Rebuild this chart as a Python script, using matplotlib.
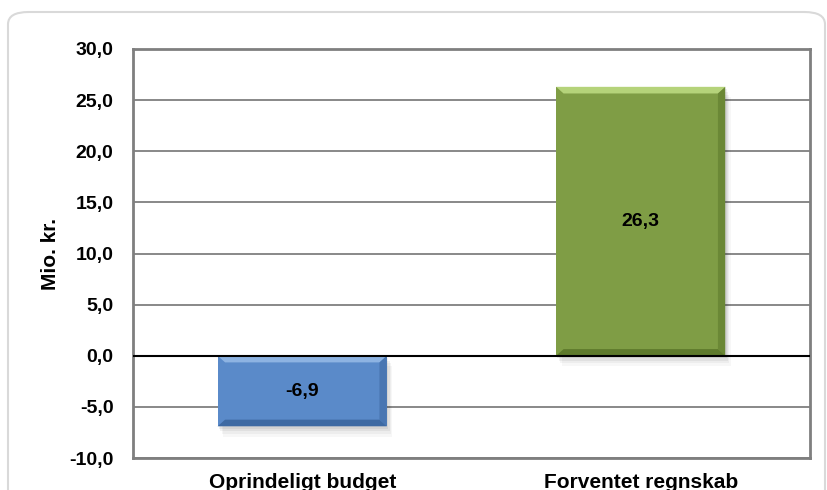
import matplotlib.pyplot as plt
from matplotlib.patches import FancyBboxPatch, Polygon, Rectangle
import numpy as np

categories = ['Oprindeligt budget', 'Forventet regnskab']
values = [-6.9, 26.3]
labels = ['-6,9', '26,3']
face_colors = ['#5A8AC9', '#7F9D45']
light_colors = ['#8DB3E2', '#B5D37A']
dark_colors = ['#3E6AA3', '#5E7A2C']
yticks = [-10, -5, 0, 5, 10, 15, 20, 25, 30]

plt.rcParams['font.family'] = ['Liberation Sans', 'DejaVu Sans']
plt.rcParams['font.weight'] = 'bold'

fig = plt.figure(figsize=(8.28, 4.9), dpi=100)
fig.patch.set_facecolor('white')

# rounded frame round the chart (runs past the bottom edge)
frame = FancyBboxPatch((8 / 828, -20 / 490), 817 / 828, 498 / 490,
                       boxstyle='round,pad=0,rounding_size=0.025',
                       transform=fig.transFigure, facecolor='none',
                       edgecolor='#D9D9D9', linewidth=1.5, zorder=-1)
fig.patches.append(frame)

ax = fig.add_axes([133 / 828, 32 / 490, 677 / 828, 409 / 490])
ax.set_facecolor('none')

x = np.arange(len(categories))
width = 0.5
bx = 0.022   # bevel in x (data units)
by = 0.65    # bevel in y (data units)

for i, v in enumerate(values):
    x0, x1 = x[i] - width / 2, x[i] + width / 2
    y0, y1 = min(0, v), max(0, v)
    # soft shadow
    for k, a in enumerate([0.06, 0.05, 0.04, 0.03]):
        ax.add_patch(Rectangle((x0 + 0.004 * (k + 1), y0 - 0.25 * (k + 1)),
                               width, y1 - y0, facecolor='black', alpha=a,
                               linewidth=0, zorder=2))
    ax.bar(x[i], v, width=width, color=face_colors[i], linewidth=0, zorder=3)
    # bevel edges
    ax.add_patch(Polygon([(x0, y1), (x1, y1), (x1 - bx, y1 - by), (x0 + bx, y1 - by)],
                         closed=True, facecolor=light_colors[i], linewidth=0, zorder=4))
    ax.add_patch(Polygon([(x0, y0), (x1, y0), (x1 - bx, y0 + by), (x0 + bx, y0 + by)],
                         closed=True, facecolor=dark_colors[i], linewidth=0, zorder=4))
    ax.add_patch(Polygon([(x1, y0), (x1 - bx, y0 + by), (x1 - bx, y1 - by), (x1, y1)],
                         closed=True, facecolor=dark_colors[i], alpha=0.6,
                         linewidth=0, zorder=4))
    ax.text(x[i], v / 2, labels[i], ha='center', va='center', fontsize=14,
            fontweight='bold', color='black', zorder=5)

ax.set_xlim(-0.5, 1.5)
ax.set_ylim(-10, 30)
ax.set_yticks(yticks)
ax.set_yticklabels([f'{t:.1f}'.replace('.', ',') for t in yticks])
ax.set_xticks(x)
ax.set_xticklabels(categories)
ax.tick_params(axis='both', length=0)
ax.tick_params(axis='y', pad=14, labelsize=14)
ax.tick_params(axis='x', pad=11, labelsize=15)

ax.grid(axis='y', color='#7F7F7F', linewidth=1.3, zorder=1)
ax.set_axisbelow(True)
ax.axhline(0, color='black', linewidth=1.5, zorder=6)
for s in ax.spines.values():
    s.set_color('#7F7F7F')
    s.set_linewidth(2)

ax.set_ylabel('Mio. kr.', fontsize=15, fontweight='bold')
ax.yaxis.set_label_coords(-0.108, 0.5)

fig.savefig('out.png', dpi=100)
